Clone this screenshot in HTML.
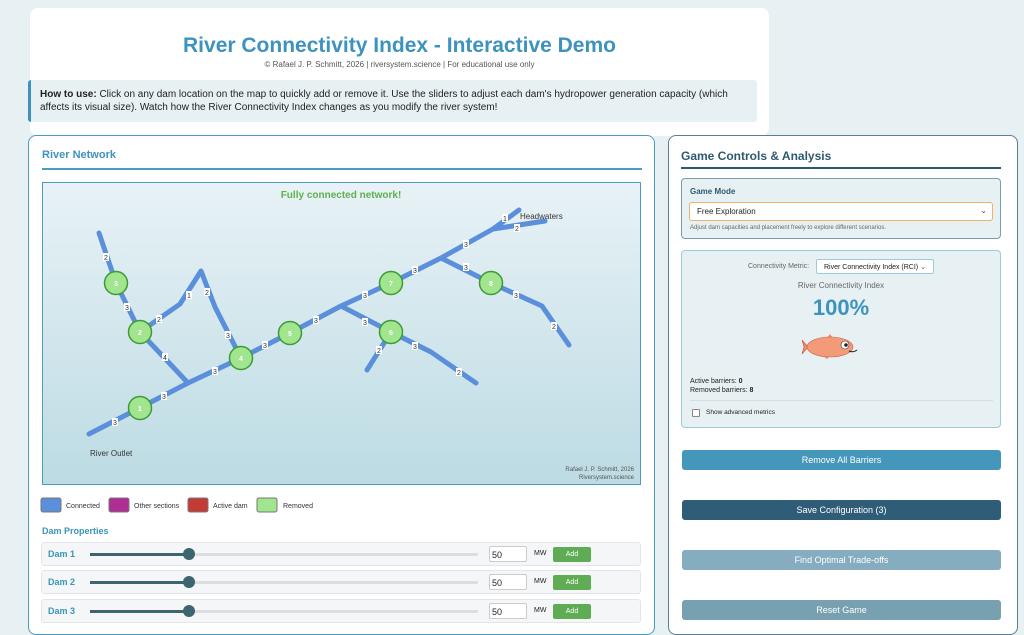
<!DOCTYPE html>
<html><head><meta charset="utf-8"><style>
*{box-sizing:border-box;margin:0;padding:0}
body{width:1024px;height:625px;overflow:hidden;background:#e7f1f4;font-family:"Liberation Sans",sans-serif;position:relative;color:#222}
.abs{position:absolute}
.card{background:#fff;border-radius:8px}
.btn{position:absolute;left:682px;width:319px;height:20px;border-radius:3px;color:#fff;font-size:9px;text-align:center;line-height:20px}
.row{position:absolute;left:41px;width:600px;height:24px;background:#f4f6f7;border:1px solid #e3e6e8;border-radius:3px}
.row .l{position:absolute;left:6px;top:6px;font-size:9px;font-weight:bold;color:#3a94bb}
.row .tr{position:absolute;left:48px;top:10px;width:388px;height:3px;background:#ddd;border-radius:2px}
.row .fi{position:absolute;left:48px;top:10px;width:100px;height:3px;background:#3c6570}
.row .kn{position:absolute;left:141px;top:5px;width:12px;height:12px;border-radius:50%;background:#3c6570}
.row .in{position:absolute;left:447px;top:3px;width:38px;height:16px;background:#fff;border:1px solid #ccc;border-radius:2px;font-size:9px;padding:3px 2px}
.row .mw{position:absolute;left:492px;top:7px;font-size:7px}
.row .ad{position:absolute;left:511px;top:4px;width:38px;height:15px;background:#5fac55;color:#fff;font-size:7px;text-align:center;line-height:15px;border-radius:2px}
</style></head><body>
<div class="abs card" style="left:30px;top:8px;width:739px;height:128px"></div>
<div class="abs" style="left:30px;top:34px;width:739px;text-align:center;font-size:21px;font-weight:bold;color:#3d93bd">River Connectivity Index - Interactive Demo</div>
<div class="abs" style="left:30px;top:60px;width:739px;text-align:center;font-size:8px;color:#555">© Rafael J. P. Schmitt, 2026 | riversystem.science | For educational use only</div>
<div class="abs" style="left:28px;top:80px;width:729px;height:42px;background:#e7f1f4;border-left:3px solid #3d93bd;border-radius:3px;font-size:10px;line-height:13px;padding:8px 9px">
<b>How to use:</b> Click on any dam location on the map to quickly add or remove it. Use the sliders to adjust each dam's hydropower generation capacity (which affects its visual size). Watch how the River Connectivity Index changes as you modify the river system!</div>

<div class="abs card" style="left:28px;top:135px;width:627px;height:500px;border:1.5px solid #4a9cc0"></div>
<div class="abs" style="left:42px;top:149px;font-size:11px;font-weight:bold;color:#3d93bd">River Network</div>
<div class="abs" style="left:42px;top:168px;width:600px;height:2px;background:#4a9cc0"></div>
<div class="abs" style="left:42px;top:182px;width:599px;height:303px;border:1.5px solid #4a9cc0;background:linear-gradient(#e8f2f6,#bcdbe3)"></div>
<svg class="abs" style="left:0;top:0" width="1024" height="625">
<g fill="none" stroke="#5b8fdb" stroke-width="5" stroke-linecap="round" stroke-linejoin="round">
<polyline points="89,434 188,383 241,358 290,333 341,306 391,283 441,258 493,229 519,210"/>
<polyline points="493,229 545,221"/>
<polyline points="188,383 140,332 116,283 99,233"/>
<polyline points="140,332 180,304 201,271 215,307 241,358"/>
<polyline points="341,306 391,332 431,352 476,383"/>
<polyline points="391,332 367,370"/>
<polyline points="441,258 491,283 542,306 569,345"/>
</g>
<g font-size="7" fill="#333" text-anchor="middle" font-family="Liberation Sans">
<g fill="#fff"><rect x="103" y="253" width="6" height="8"/><rect x="124" y="303" width="6" height="8"/><rect x="156" y="315" width="6" height="8"/><rect x="186" y="291" width="6" height="8"/><rect x="204" y="288" width="6" height="8"/><rect x="162" y="353" width="6" height="8"/><rect x="225" y="331" width="6" height="8"/><rect x="112" y="418" width="6" height="8"/><rect x="161" y="392" width="6" height="8"/><rect x="212" y="367" width="6" height="8"/><rect x="262" y="341" width="6" height="8"/><rect x="313" y="316" width="6" height="8"/><rect x="362" y="291" width="6" height="8"/><rect x="412" y="266" width="6" height="8"/><rect x="463" y="240" width="6" height="8"/><rect x="502" y="214" width="6" height="8"/><rect x="514" y="224" width="6" height="8"/><rect x="362" y="318" width="6" height="8"/><rect x="412" y="342" width="6" height="8"/><rect x="456" y="368" width="6" height="8"/><rect x="376" y="346" width="6" height="8"/><rect x="463" y="263" width="6" height="8"/><rect x="513" y="291" width="6" height="8"/><rect x="551" y="322" width="6" height="8"/></g>
<text x="106" y="260">2</text><text x="127" y="310">3</text><text x="159" y="322">2</text><text x="189" y="298">1</text><text x="207" y="295">2</text><text x="165" y="360">4</text><text x="228" y="338">3</text><text x="115" y="425">3</text><text x="164" y="399">3</text><text x="215" y="374">3</text><text x="265" y="348">3</text><text x="316" y="323">3</text><text x="365" y="298">3</text><text x="415" y="273">3</text><text x="466" y="247">3</text><text x="505" y="221">1</text><text x="517" y="231">2</text><text x="365" y="325">3</text><text x="415" y="349">3</text><text x="459" y="375">2</text><text x="379" y="353">2</text><text x="466" y="270">3</text><text x="516" y="298">3</text><text x="554" y="329">2</text>
</g>
<g fill="#a2e58f" stroke="#3d9a35" stroke-width="1.5">
<circle cx="140" cy="408" r="11.5"/><circle cx="140" cy="332" r="11.5"/><circle cx="116" cy="283" r="11.5"/><circle cx="241" cy="358" r="11.5"/><circle cx="290" cy="333" r="11.5"/><circle cx="391" cy="332" r="11.5"/><circle cx="391" cy="283" r="11.5"/><circle cx="491" cy="283" r="11.5"/>
</g>
<g font-size="7" fill="#fff" text-anchor="middle" font-weight="bold" font-family="Liberation Sans">
<text x="140" y="411">1</text><text x="140" y="335">2</text><text x="116" y="286">3</text><text x="241" y="361">4</text><text x="290" y="336">5</text><text x="391" y="335">6</text><text x="391" y="286">7</text><text x="491" y="286">8</text>
</g>
<text x="341" y="198" font-size="10" font-weight="bold" fill="#5fb04f" text-anchor="middle" font-family="Liberation Sans">Fully connected network!</text>
<text x="520" y="219" font-size="8" fill="#333" font-family="Liberation Sans">Headwaters</text>
<text x="90" y="456" font-size="8" fill="#333" font-family="Liberation Sans">River Outlet</text>
<text x="634" y="471" font-size="6" fill="#555" text-anchor="end" font-family="Liberation Sans">Rafael J. P. Schmitt, 2026</text>
<text x="634" y="479" font-size="6" fill="#555" text-anchor="end" font-family="Liberation Sans">Riversystem.science</text>
<rect x="41" y="498" width="20" height="14" rx="2" fill="#5b8fdb" stroke="#777"/>
<rect x="109" y="498" width="20" height="14" rx="2" fill="#b02e93" stroke="#777"/>
<rect x="188" y="498" width="20" height="14" rx="2" fill="#c43a35" stroke="#777"/>
<rect x="257" y="498" width="20" height="14" rx="2" fill="#a2e58f" stroke="#777"/>
<g font-size="7" fill="#333" font-family="Liberation Sans"><text x="66" y="508">Connected</text><text x="134" y="508">Other sections</text><text x="213" y="508">Active dam</text><text x="283" y="508">Removed</text></g>
</svg>
<div class="abs" style="left:42px;top:526px;font-size:9px;font-weight:bold;color:#3a94bb">Dam Properties</div>
<div class="row" style="top:542px"><span class="l">Dam 1</span><span class="tr"></span><span class="fi"></span><span class="kn"></span><span class="in">50</span><span class="mw">MW</span><span class="ad">Add</span></div>
<div class="row" style="top:570px"><span class="l">Dam 2</span><span class="tr"></span><span class="fi"></span><span class="kn"></span><span class="in">50</span><span class="mw">MW</span><span class="ad">Add</span></div>
<div class="row" style="top:599px"><span class="l">Dam 3</span><span class="tr"></span><span class="fi"></span><span class="kn"></span><span class="in">50</span><span class="mw">MW</span><span class="ad">Add</span></div>

<div class="abs card" style="left:668px;top:135px;width:350px;height:500px;border:1.5px solid #5a7f90"></div>
<div class="abs" style="left:681px;top:149px;font-size:12px;font-weight:bold;color:#2d5a70">Game Controls &amp; Analysis</div>
<div class="abs" style="left:681px;top:167px;width:320px;height:2px;background:#2d5a70"></div>
<div class="abs" style="left:681px;top:178px;width:320px;height:61px;background:#e7f1f4;border:1px solid #7a9cae;border-radius:4px"></div>
<div class="abs" style="left:690px;top:187px;font-size:8px;font-weight:bold;color:#2d5a70">Game Mode</div>
<div class="abs" style="left:689px;top:202px;width:304px;height:19px;background:#fff;border:1px solid #f0b070;border-radius:3px;font-size:8px;padding:4px 7px">Free Exploration<span style="position:absolute;right:5px;top:3px;font-size:8px;color:#555">⌄</span></div>
<div class="abs" style="left:690px;top:225px;font-size:6px;color:#666">Adjust dam capacities and placement freely to explore different scenarios.</div>
<div class="abs" style="left:681px;top:250px;width:320px;height:178px;background:#e7f1f4;border:1px solid #9ccbdc;border-radius:4px"></div>
<div class="abs" style="left:748px;top:263px;font-size:7px;color:#666">Connectivity Metric:</div>
<div class="abs" style="left:816px;top:259px;width:118px;height:15px;background:#fff;border:1px solid #9ccbdc;border-radius:2px;font-size:7px;padding:3px 7px">River Connectivity Index (RCI) <span style="color:#555">⌄</span></div>
<div class="abs" style="left:681px;top:281px;width:320px;text-align:center;font-size:8px;color:#666">River Connectivity Index</div>
<div class="abs" style="left:681px;top:295px;width:320px;text-align:center;font-size:22px;font-weight:bold;color:#3d93bd">100%</div>
<svg class="abs" style="left:0;top:0" width="1024" height="625">
<g transform="translate(835,347)">
<path d="M-27,0 L-33,-7 L-31,0 L-33,7 Z" fill="#ef8a6a" stroke="#c05a40" stroke-width=".6"/>
<path d="M-8,-9 L-5,-13 L-2,-9 Z" fill="#ef8a6a"/>
<path d="M-12,9 L-8,12 L-5,9 Z" fill="#ef8a6a"/>
<ellipse cx="-5" cy="0" rx="23" ry="10" fill="#f39a78" stroke="#c8664a" stroke-width=".6"/>
<circle cx="10" cy="-2" r="4" fill="#fff" stroke="#333" stroke-width=".6"/><circle cx="11" cy="-2" r="1.8" fill="#222"/>
<path d="M14,4 q4,2 8,-1" stroke="#222" fill="none" stroke-width="1"/>
</g>
</svg>
<div class="abs" style="left:690px;top:377px;font-size:7px;line-height:9px">Active barriers: <b>0</b><br>Removed barriers: <b>8</b></div>
<div class="abs" style="left:690px;top:400px;width:303px;height:1px;background:#d5dde0"></div>
<div class="abs" style="left:692px;top:409px;width:8px;height:8px;background:#fff;border:1px solid #888;border-radius:1px"></div>
<div class="abs" style="left:706px;top:409px;font-size:6.5px">Show advanced metrics</div>
<div class="btn" style="top:450px;background:#4596bb">Remove All Barriers</div>
<div class="btn" style="top:500px;background:#2f5d77">Save Configuration (3)</div>
<div class="btn" style="top:550px;background:#85adbf">Find Optimal Trade-offs</div>
<div class="btn" style="top:600px;background:#77a0b0">Reset Game</div>
</body></html>
